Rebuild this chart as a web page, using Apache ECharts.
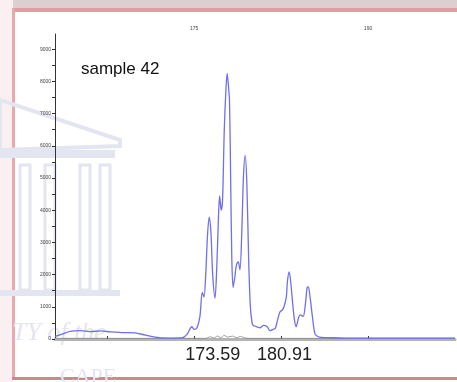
<!DOCTYPE html>
<html>
<head>
<meta charset="utf-8">
<script src="https://cdn.jsdelivr.net/npm/echarts@6/dist/echarts.min.js"></script>
<style>
  html, body { margin: 0; padding: 0; background: #fff; }
  #chart { width: 457px; height: 382px; }
</style>
</head>
<body>
<div id="chart"></div>
<script>
// trace (size on top axis, RFU on left axis)
var traceX = [163.0, 163.6, 164.3, 165.2, 166.0, 167.0, 167.8, 168.8, 169.9, 170.8, 172.0, 173.0,
  174.0, 174.4, 174.8, 175.0, 175.25, 175.5, 175.7, 175.85, 176.0, 176.15, 176.3, 176.45, 176.6,
  176.8, 176.95, 177.1, 177.2, 177.33, 177.45, 177.6, 177.75, 177.85, 177.95, 178.05, 178.15,
  178.25, 178.36, 178.5, 178.65, 178.8, 178.95, 179.1, 179.25, 179.4, 179.55, 179.7, 179.85,
  180.0, 180.1, 180.4, 180.7, 181.0, 181.3, 181.55, 181.8, 182.0, 182.2, 182.4, 182.6, 182.75,
  182.95, 183.05, 183.2, 183.35, 183.5, 183.65, 183.8, 184.0, 184.15, 184.4, 184.6, 184.75,
  184.85, 185.0, 185.2, 185.43, 185.7, 186.0, 186.7, 188, 190, 193, 197.5];
var traceY = [80, 150, 240, 260, 230, 250, 220, 200, 190, 120, 40, 30,
  40, 150, 380, 300, 350, 700, 1450, 1300, 2000, 3200, 3780, 3300, 2000,
  1270, 2200, 3800, 4440, 4000, 4300, 6500, 7800, 8250, 7900, 7400, 5000,
  2500, 1600, 1900, 2300, 2400, 2150, 3200, 5000, 5700, 4800, 2500, 1000,
  500, 420, 380, 350, 420, 380, 260, 300, 330, 600, 840, 900, 1000,
  1300, 1800, 2080, 1700, 1100, 600, 380, 650, 750, 700, 1100, 1600,
  1620, 1300, 700, 150, 70, 50, 40, 30, 30, 30, 30];

// second (dark) channel, close to the baseline
var darkX = [163.0, 176.0, 176.4, 176.7, 177.0, 177.3, 177.6, 177.9, 178.3, 178.7, 179.0, 179.4, 180.0, 197.5];
var darkY = [20, 20, 70, 30, 90, 40, 110, 60, 90, 40, 80, 30, 20, 20];

var topTicks = [167.5, 175, 182.5, 190];
var topLabels = [175, 190];
var yLabels = [0, 1000, 2000, 3000, 4000, 5000, 6000, 7000, 8000, 9000];
var yTicks = [0, 500, 1000, 1500, 2000, 2500, 3000, 3500, 4000, 4500, 5000, 5500,
  6000, 6500, 7000, 7500, 8000, 8500, 9000];
var peakPos = [176.6, 182.8];
var peakText = ['173.59', '180.91'];

function pairs(xs, ys) {
  return xs.map(function (x, i) { return [x, ys[i]]; });
}

var wm = '#e3e5f0';
var option = {
  backgroundColor: '#ffffff',
  animation: false,
  grid: { left: 55, right: 2, top: 34, bottom: 43 },
  graphic: [
    { type: 'rect', z: -10, shape: { x: 0, y: 0, width: 457, height: 9 }, style: { fill: '#dccfcf' } },
    { type: 'rect', z: -10, shape: { x: 0, y: 0, width: 13, height: 382 }, style: { fill: '#fbf0f1' } },
    { type: 'rect', z: -9, shape: { x: 12, y: 8, width: 445, height: 4 }, style: { fill: '#e59ba4' } },
    { type: 'rect', z: -9, shape: { x: 12, y: 8, width: 3, height: 372 }, style: { fill: '#e8a8ae' } },
    { type: 'rect', z: -9, shape: { x: 12, y: 377, width: 445, height: 3 }, style: { fill: '#c98a8a' } },
    // faint watermark
    { type: 'polygon', z: -8, shape: { points: [[0, 100], [120, 140], [120, 146], [0, 150]] }, style: { fill: 'none', stroke: wm, lineWidth: 4 } },
    { type: 'rect', z: -8, shape: { x: 0, y: 150, width: 115, height: 8 }, style: { fill: wm } },
    { type: 'rect', z: -8, shape: { x: 20, y: 165, width: 10, height: 125 }, style: { fill: 'none', stroke: wm, lineWidth: 3 } },
    { type: 'rect', z: -8, shape: { x: 45, y: 165, width: 10, height: 125 }, style: { fill: 'none', stroke: wm, lineWidth: 3 } },
    { type: 'rect', z: -8, shape: { x: 80, y: 165, width: 10, height: 125 }, style: { fill: 'none', stroke: wm, lineWidth: 3 } },
    { type: 'rect', z: -8, shape: { x: 100, y: 165, width: 10, height: 125 }, style: { fill: 'none', stroke: wm, lineWidth: 3 } },
    { type: 'rect', z: -8, shape: { x: 0, y: 290, width: 120, height: 6 }, style: { fill: wm } },
    { type: 'text', z: -8, left: 12, top: 320, style: { text: 'TY of the', font: 'italic 26px "Liberation Serif"', fill: wm } },
    { type: 'text', z: -8, left: 60, top: 366, style: { text: 'CAPE', font: '22px "Liberation Serif"', fill: wm } },
    { type: 'text', left: 81, top: 61, style: { text: 'sample 42', font: '17px "Liberation Sans"', fill: '#111' } }
  ],
  xAxis: [
    {
      type: 'value', position: 'top', min: 163, max: 197.5,
      axisLine: { lineStyle: { color: '#333', width: 1 } },
      axisTick: { customValues: topTicks, inside: false, length: 3, lineStyle: { color: '#333' } },
      axisLabel: { customValues: topLabels, fontSize: 5, color: '#444', margin: 3 },
      splitLine: { show: false }
    },
    {
      type: 'value', position: 'bottom', min: 163, max: 197.5,
      axisLine: { lineStyle: { color: '#b4b4b4', width: 3 } },
      axisTick: { show: false, length: 0 },
      minorTick: { show: false },
      axisLabel: {
        customValues: peakPos, fontSize: 18, color: '#222', margin: 7,
        fontFamily: 'Liberation Sans',
        formatter: function (v) { return peakText[peakPos.indexOf(v)]; }
      },
      splitLine: { show: false }
    }
  ],
  yAxis: {
    type: 'value', min: 0, max: 9470,
    axisLine: { show: true, lineStyle: { color: '#333', width: 1 } },
    axisTick: { show: true, customValues: yTicks, length: 3, lineStyle: { color: '#333' } },
    axisLabel: {
      customValues: yLabels, fontSize: 5, color: '#444', margin: 4,
      formatter: function (v) { return String(v); }
    },
    splitLine: { show: false }
  },
  series: [
    {
      type: 'line', xAxisIndex: 0, data: pairs(darkX, darkY), showSymbol: false,
      lineStyle: { color: '#888', width: 0.8 }, smooth: 0.3
    },
    {
      type: 'line', xAxisIndex: 0, data: pairs(traceX, traceY), showSymbol: false,
      lineStyle: { color: '#6f6ff0', width: 1.3 }, smooth: 0.3
    }
  ]
};

var myChart = echarts.init(document.getElementById('chart'));
myChart.setOption(option, true);
</script>
</body>
</html>
